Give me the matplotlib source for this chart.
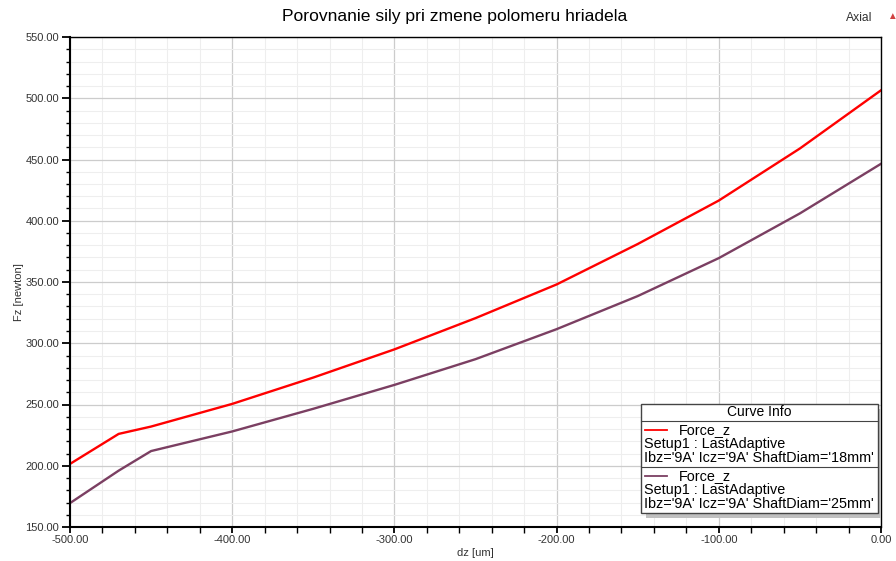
import numpy as np
import matplotlib.pyplot as plt
from matplotlib.patches import Rectangle
from matplotlib.ticker import MultipleLocator

plt.rcParams['font.family'] = ['Liberation Sans', 'DejaVu Sans']

dz = [-500, -470, -450, -400, -350, -300, -250, -200, -150, -100, -50, 0]
force_18mm = [201.5, 226, 232, 250.5, 272, 295, 320.5, 348, 381, 416.5, 459, 506.5]
force_25mm = [169.5, 196, 212, 228, 246.5, 266, 287, 311.5, 338.5, 369.5, 406, 446.5]

labels = ["Force_z\nSetup1 : LastAdaptive\nIbz='9A' Icz='9A' ShaftDiam='18mm'",
          "Force_z\nSetup1 : LastAdaptive\nIbz='9A' Icz='9A' ShaftDiam='25mm'"]
colors = ['#ff0000', '#7b3f62']

fig = plt.figure(figsize=(8.96, 5.61), dpi=100)
ax = fig.add_axes([70/896, 1-527/561, 811/896, 490/561])

ax.plot(dz, force_18mm, color=colors[0], lw=1.7)
ax.plot(dz, force_25mm, color=colors[1], lw=1.7)

ax.set_xlim(-500, 0)
ax.set_ylim(150, 550)
ax.xaxis.set_major_locator(MultipleLocator(100))
ax.xaxis.set_minor_locator(MultipleLocator(20))
ax.yaxis.set_major_locator(MultipleLocator(50))
ax.yaxis.set_minor_locator(MultipleLocator(10))
ax.xaxis.set_major_formatter(lambda v, p: f'{v:.2f}')
ax.yaxis.set_major_formatter(lambda v, p: f'{v:.2f}')
ax.grid(which='major', color='#cccccc', lw=0.9)
ax.grid(which='minor', color='#eeeeee', lw=0.8)
ax.set_axisbelow(True)
ax.tick_params(which='major', length=6, width=1.3, labelsize=8, colors='black', pad=2)
ax.tick_params(which='minor', length=3, width=1)
ax.tick_params(axis='x', which='both', length=4)
ax.tick_params(axis='x', labelcolor='#333333')
ax.tick_params(axis='y', labelcolor='#333333')
for s in ax.spines.values():
    s.set_linewidth(1)
ax.spines['left'].set_linewidth(1.5)
ax.spines['bottom'].set_linewidth(1.5)

ax.set_xlabel('dz [um]', fontsize=8, color='#333333', labelpad=2)
ax.set_ylabel('Fz [newton]', fontsize=8, color='#333333')
ax.yaxis.set_label_coords(-0.057, 0.48)

fig.text(455/896, 1-17/561, 'Porovnanie sily pri zmene polomeru hriadela',
         ha='center', va='center', fontsize=12.6)
fig.text(872/896, 1-18/561, 'Axial', ha='right', va='center', fontsize=8.7, color='#333333')
fig.text(892/896, 1-16/561, '\u25b2', ha='center', va='center', fontsize=7, color='#d04040')

# curve info box
def px(x, y):
    return (x - 70) / 811, (527 - y) / 490

x0, y0 = px(641, 513)
x1, y1 = px(878, 404)
sx, sy = 5 / 811, 5 / 490
ax.add_patch(Rectangle((x0 + sx, y0 - sy), x1 - x0, y1 - y0, transform=ax.transAxes,
                       facecolor='#c0c0c0', edgecolor='none', zorder=5))
ax.add_patch(Rectangle((x0, y0), x1 - x0, y1 - y0, transform=ax.transAxes,
                       facecolor='white', edgecolor='#444444', lw=1, zorder=6))
ax.text(*px(759, 412), 'Curve Info', transform=ax.transAxes, ha='center', va='center',
        fontsize=10, zorder=7)
for yy in [421, 467]:
    ax.plot([x0, x1], [px(0, yy)[1]] * 2, transform=ax.transAxes, color='#444444', lw=0.8, zorder=7)
for i, (lab, c) in enumerate(zip(labels, colors)):
    ytop = 423 + i * 46
    lx, ly = px(645, ytop + 7)
    ax.plot([lx, px(667, 0)[0]], [ly, ly], transform=ax.transAxes, color=c, lw=1.3, zorder=7)
    lines = lab.split('\n')
    ax.text(*px(679, ytop + 7), lines[0], transform=ax.transAxes, ha='left', va='center',
            fontsize=10.4, zorder=7)
    ax.text(*px(644, ytop + 21), lines[1], transform=ax.transAxes, ha='left', va='center',
            fontsize=10.4, zorder=7)
    ax.text(*px(644, ytop + 35), lines[2], transform=ax.transAxes, ha='left', va='center',
            fontsize=10.4, zorder=7)

fig.savefig('out.png', dpi=100)
